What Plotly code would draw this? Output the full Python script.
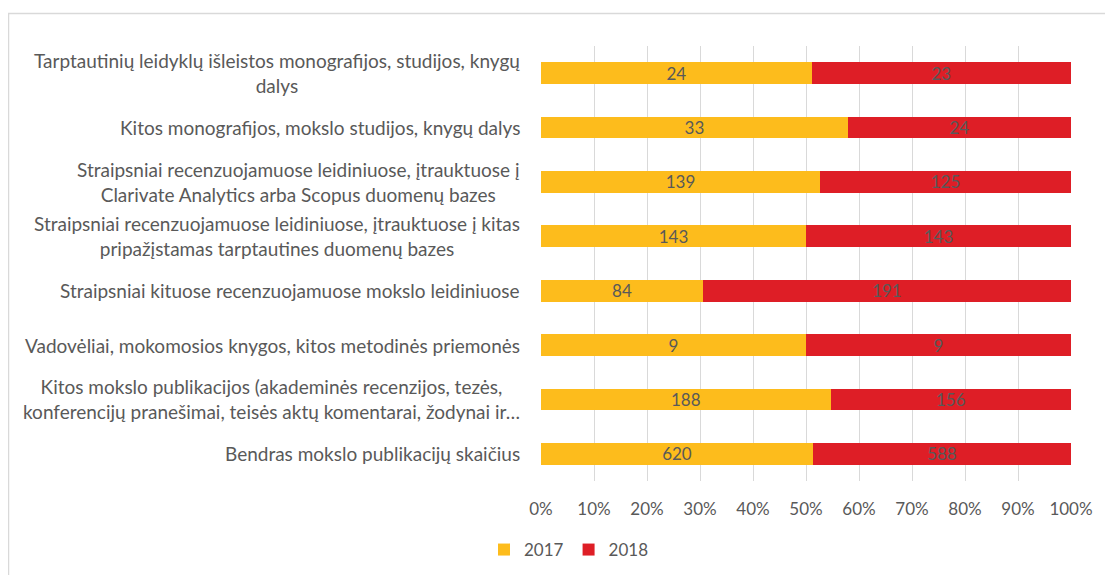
import plotly.graph_objects as go

categories = [
    "Tarptautinių leidyklų išleistos monografijos, studijos, knygų<br>dalys",
    "Kitos monografijos, mokslo studijos, knygų dalys",
    "Straipsniai recenzuojamuose leidiniuose, įtrauktuose į<br>Clarivate Analytics arba Scopus duomenų bazes",
    "Straipsniai recenzuojamuose leidiniuose, įtrauktuose į kitas<br>pripažįstamas tarptautines duomenų bazes",
    "Straipsniai kituose recenzuojamuose mokslo leidiniuose",
    "Vadovėliai, mokomosios knygos, kitos metodinės priemonės",
    "Kitos mokslo publikacijos (akademinės recenzijos, tezės,<br>konferencijų pranešimai, teisės aktų komentarai, žodynai ir…",
    "Bendras mokslo publikacijų skaičius",
]
values_2017 = [24, 33, 139, 143, 84, 9, 188, 620]
values_2018 = [23, 24, 125, 143, 191, 9, 156, 588]
tick_vals = [0, 10, 20, 30, 40, 50, 60, 70, 80, 90, 100]
tick_text = [f"{v}%" for v in tick_vals]

FONT = "Lato"
GRAY = "#595959"
OFF = 8  # page body margin
W, H = 1113 - 2 * OFF, 583 - 2 * OFF
L, T = 541 - OFF, 46 - OFF
pw, ph = 530, 435
R, B = W - L - pw, H - T - ph


def px_x(x):
    return (x - OFF - L) / pw


def px_y(y):
    return (T + ph - (y - OFF)) / ph


fig = go.Figure()
for name, vals, col in [("2017", values_2017, "#FDBC1C"), ("2018", values_2018, "#DE1E26")]:
    fig.add_trace(go.Bar(
        y=categories, x=vals, name=name, orientation="h",
        marker=dict(color=col, line=dict(width=0)),
        text=vals, textposition="inside", insidetextanchor="middle",
        textangle=0, constraintext="none",
        textfont=dict(color=GRAY, size=17, family=FONT), hoverinfo="x+y",
    ))

for c in categories:
    fig.add_annotation(
        x=px_x(522), xref="paper", y=c, yref="y",
        text=c, showarrow=False, xanchor="right", yanchor="middle",
        align="center", font=dict(color=GRAY, size=19, family=FONT),
    )

fig.add_shape(type="rect", xref="paper", yref="paper",
              x0=px_x(8.5), x1=px_x(1130),
              y0=px_y(600), y1=px_y(13.5),
              line=dict(color="#D9D9D9", width=1.5), fillcolor="rgba(0,0,0,0)", layer="below")

fig.update_layout(
    width=W, height=H,
    margin=dict(l=L, r=R, t=T, b=B, autoexpand=False),
    barmode="stack", barnorm="percent", bargap=0.6,
    plot_bgcolor="white", paper_bgcolor="white",
    font=dict(family=FONT, color=GRAY, size=17),
    xaxis=dict(range=[0, 100], tickvals=tick_vals, ticktext=tick_text,
               showgrid=True, gridcolor="#D9D9D9", gridwidth=1, zeroline=False,
               ticks="", ticklabelstandoff=16, tickfont=dict(size=17, color=GRAY, family=FONT),
               fixedrange=True),
    yaxis=dict(autorange="reversed", showticklabels=False, showgrid=False,
               ticks="", fixedrange=True),
    legend=dict(orientation="h", x=px_x(569), xanchor="center",
                y=px_y(550), yanchor="middle",
                font=dict(size=17, color=GRAY, family=FONT), traceorder="normal",
                itemwidth=30),
    showlegend=True,
)

fig.write_html("out.html")
